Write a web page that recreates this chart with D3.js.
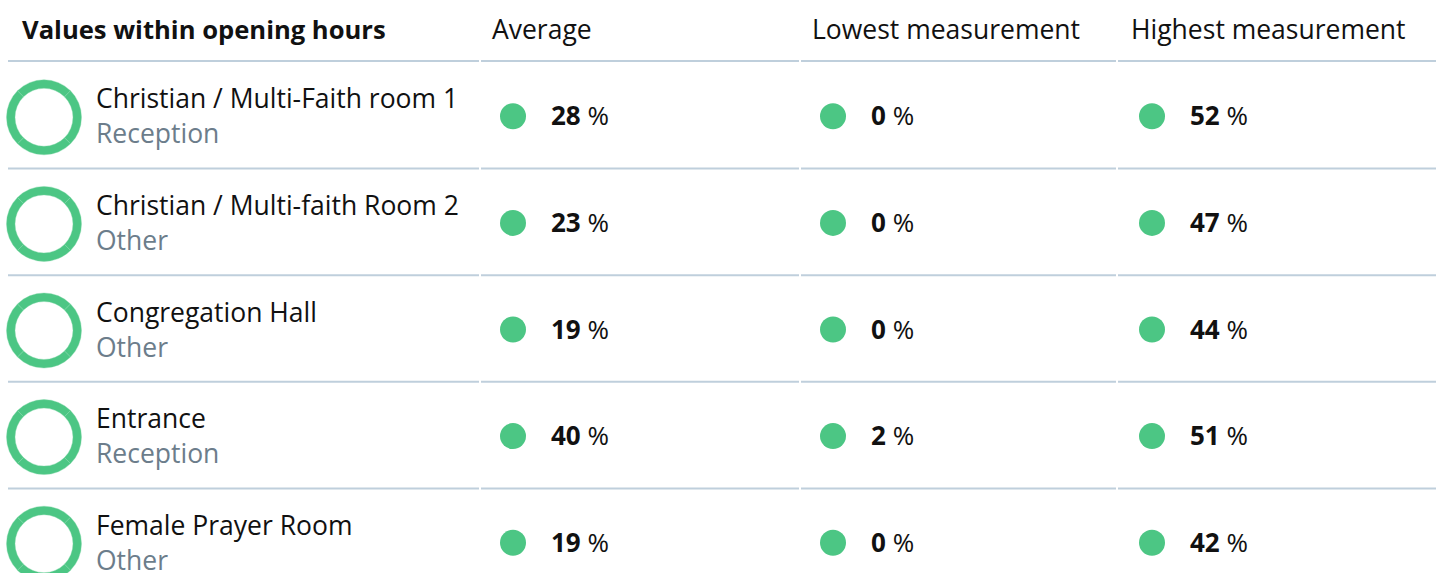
<!DOCTYPE html>
<html><head><meta charset="utf-8">
<script src="https://cdn.jsdelivr.net/npm/d3@7"></script>
<style>body{margin:0;background:#fff;font-family:"Open Sans",sans-serif;}</style>
</head><body><svg id="c" width="1443" height="573"></svg>
<script>
const rooms = ["Christian / Multi-Faith room 1","Christian / Multi-faith Room 2","Congregation Hall","Entrance","Female Prayer Room"];
const zones = ["Reception","Other","Other","Reception","Other"];
const average = [28,23,19,40,19];
const lowest = [0,0,0,2,0];
const highest = [52,47,44,51,42];
const columns = ["Average","Lowest measurement","Highest measurement"];
const title = "Values within opening hours";

const green = "#4cc684", lineCol = "#bfcfdc";
const svg = d3.select("#c");
const y = d3.scaleBand().domain(d3.range(rooms.length)).range([62, 62 + 106.6*rooms.length]);
const xCol = d3.scaleOrdinal().domain(columns).range([492, 812, 1131]);

svg.append("text").attr("x",22).attr("y",39).attr("font-size",25.6).attr("font-weight",700).attr("fill","#111").text(title);
svg.selectAll("text.hdr").data(columns).join("text").attr("class","hdr")
  .attr("x",d=>xCol(d)).attr("y",39).attr("font-size",26.5).attr("fill","#111").text(d=>d);

const lineSegs = [[8,479],[481,799],[801,1116],[1118,1436]];
const lineYs = [61].concat(d3.range(rooms.length-1).map(i=>y(i)+y.bandwidth()));
lineYs.forEach(ly=>{
  lineSegs.forEach(s=>svg.append("line").attr("x1",s[0]).attr("x2",s[1]).attr("y1",ly).attr("y2",ly)
    .attr("stroke",lineCol).attr("stroke-width",2));
});

const arc = d3.arc().innerRadius(29).outerRadius(37.5);
const pie = d3.pie().sort(null).startAngle(-Math.PI/4).endAngle(Math.PI*7/4);
const vals = [average, lowest, highest];

rooms.forEach((r,i)=>{
  const cy = y(i) + y.bandwidth()/2 + 2;
  const g = svg.append("g").attr("transform",`translate(44,${cy})`);
  g.selectAll("path").data(pie([1,1,1,1])).join("path").attr("d",arc).attr("fill",green)
    .attr("stroke","#7fd6a6").attr("stroke-width",0.4);
  svg.append("text").attr("x",96).attr("y",cy-9).attr("font-size",26.5).attr("fill","#111").text(r);
  svg.append("text").attr("x",96).attr("y",cy+26).attr("font-size",26.5).attr("fill","#6c7d8b").text(zones[i]);
  columns.forEach((c,j)=>{
    const x0 = xCol(c);
    svg.append("circle").attr("cx",x0+21).attr("cy",cy-1).attr("r",13).attr("fill",green);
    const t = svg.append("text").attr("x",x0+59).attr("y",cy+8).attr("font-size",26).attr("fill","#111");
    t.append("tspan").attr("font-weight",700).text(vals[j][i]);
    t.append("tspan").text(" %");
  });
});
</script></body></html>
